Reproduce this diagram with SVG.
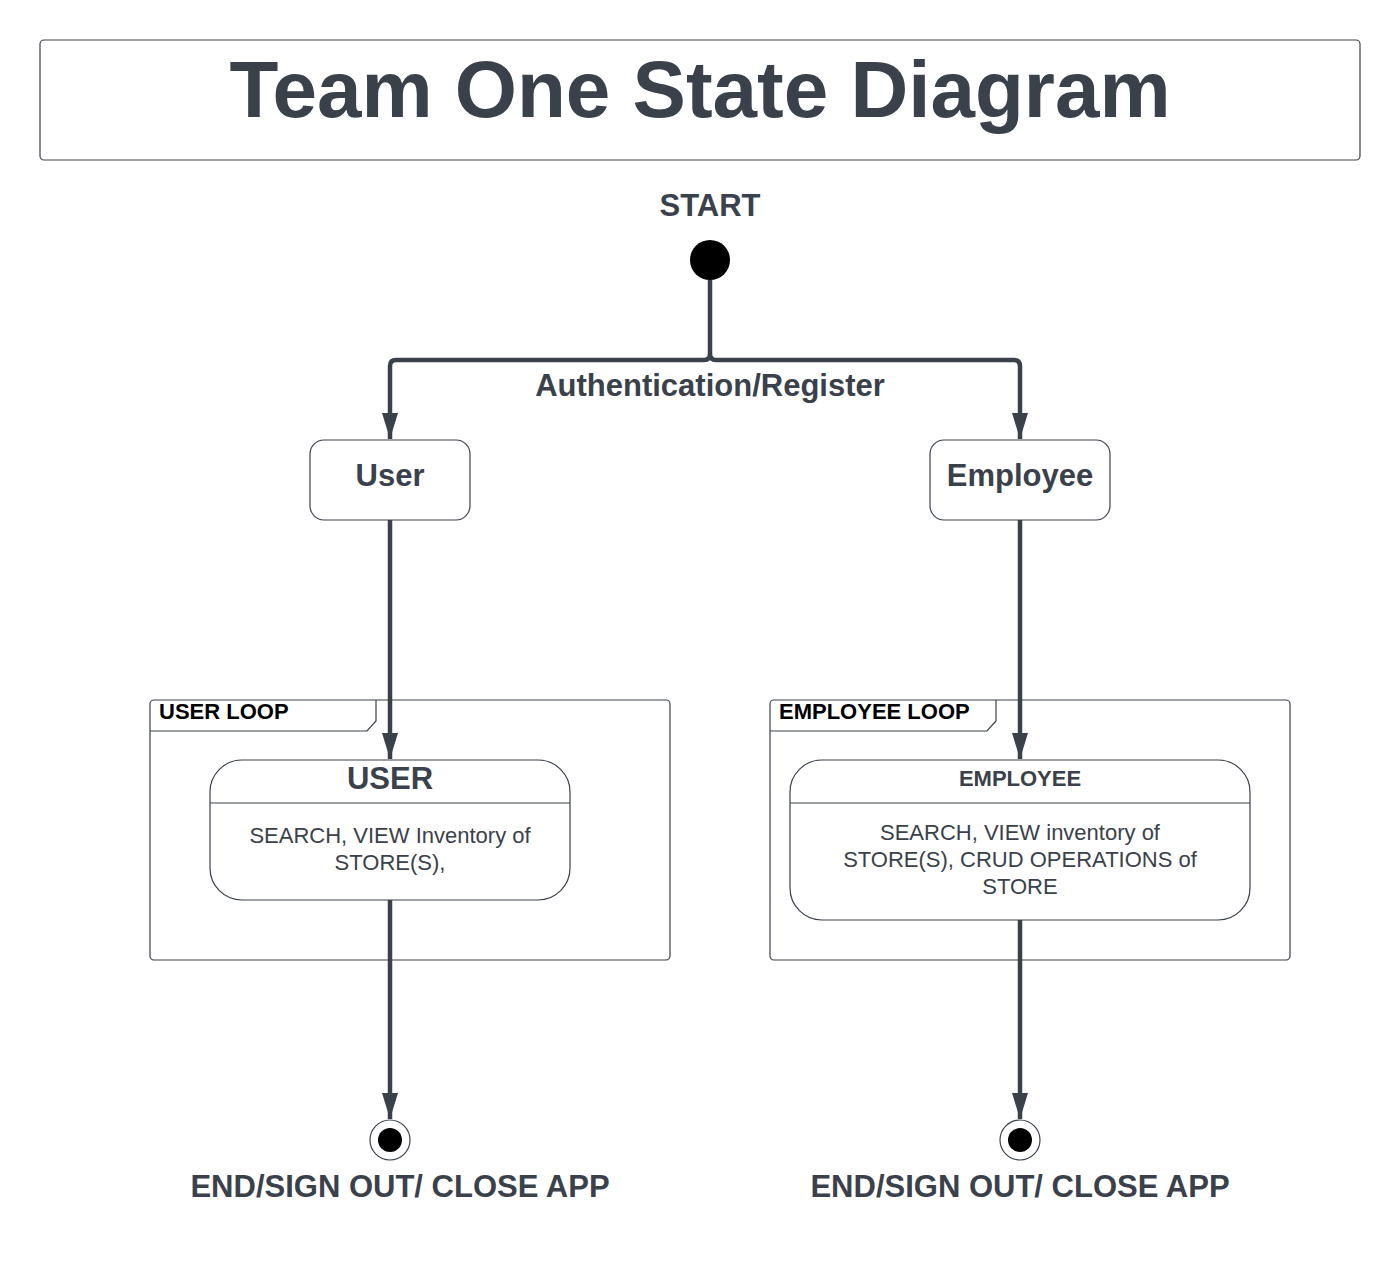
<svg xmlns="http://www.w3.org/2000/svg" width="1400" height="1274" viewBox="0 0 1400 1274">
<style>
text{font-family:"Liberation Sans",Arial,sans-serif;fill:#3a414b;text-anchor:middle}
.b{font-weight:bold}
.box{fill:#fff;stroke:#3a414b;stroke-width:1.2}
.frame{fill:none;stroke:#3a414b;stroke-width:1.2}
.conn{fill:none;stroke:#3a414b;stroke-width:4.5;stroke-linejoin:round}
</style>
<defs>
<marker id="arr" markerUnits="userSpaceOnUse" markerWidth="26" markerHeight="16" refX="26" refY="8" viewBox="0 0 26 16" orient="auto">
<path d="M0,0 L26,8 L0,16 Z" fill="#3a414b"/>
</marker>
</defs>
<rect width="1400" height="1274" fill="#fff"/>
<g id="title">
<rect x="40" y="40" width="1320" height="120" rx="4" class="box"/>
<text x="700" y="117" class="b" font-size="80">Team One State Diagram</text>
</g>
<g id="start">
<text x="710" y="216" class="b" font-size="31">START</text>
<circle cx="710" cy="260" r="20" fill="#000"/>
</g>
<g id="user">
<rect x="310" y="440" width="160" height="80" rx="14" class="box"/>
<text x="390" y="486" class="b" font-size="31">User</text>
</g>
<g id="employee">
<rect x="930" y="440" width="180" height="80" rx="14" class="box"/>
<text x="1020" y="486" class="b" font-size="31">Employee</text>
</g>
<g id="userloop">
<rect x="150" y="700" width="520" height="260" rx="4" class="frame"/>
<path d="M150,731 L367,731 L376,721 L376,700" class="frame"/>
<text x="159" y="719" class="b" font-size="22" style="text-anchor:start;fill:#000">USER LOOP</text>
</g>
<g id="employeeloop">
<rect x="770" y="700" width="520" height="260" rx="4" class="frame"/>
<path d="M770,731 L987,731 L996,721 L996,700" class="frame"/>
<text x="779" y="719" class="b" font-size="22" style="text-anchor:start;fill:#000">EMPLOYEE LOOP</text>
</g>
<g id="userstate">
<rect x="210" y="760" width="360" height="140" rx="32" class="box"/>
<line x1="210" y1="803" x2="570" y2="803" class="frame"/>
<text x="390" y="789" class="b" font-size="31">USER</text>
<text x="390" y="843" font-size="22">SEARCH, VIEW Inventory of</text>
<text x="390" y="870" font-size="22">STORE(S),</text>
</g>
<g id="employeestate">
<rect x="790" y="760" width="460" height="160" rx="32" class="box"/>
<line x1="790" y1="803" x2="1250" y2="803" class="frame"/>
<text x="1020" y="786" class="b" font-size="22">EMPLOYEE</text>
<text x="1020" y="840" font-size="22">SEARCH, VIEW inventory of</text>
<text x="1020" y="867" font-size="22">STORE(S), CRUD OPERATIONS of</text>
<text x="1020" y="894" font-size="22">STORE</text>
</g>
<g id="end-user">
<circle cx="390" cy="1140" r="20" class="box"/>
<circle cx="390" cy="1140" r="12" fill="#000"/>
<text x="400" y="1197" class="b" font-size="31">END/SIGN OUT/ CLOSE APP</text>
</g>
<g id="end-employee">
<circle cx="1020" cy="1140" r="20" class="box"/>
<circle cx="1020" cy="1140" r="12" fill="#000"/>
<text x="1020" y="1197" class="b" font-size="31">END/SIGN OUT/ CLOSE APP</text>
</g>
<g id="connectors">
<path d="M710,280 L710,354 Q710,360 704,360 L396,360 Q390,360 390,366 L390,439" class="conn" marker-end="url(#arr)"/>
<path d="M710,354 Q710,360 716,360 L1014,360 Q1020,360 1020,366 L1020,439" class="conn" marker-end="url(#arr)"/>
<text x="710" y="396" class="b" font-size="31">Authentication/Register</text>
<path d="M390,520 L390,759" class="conn" marker-end="url(#arr)"/>
<path d="M1020,520 L1020,759" class="conn" marker-end="url(#arr)"/>
<path d="M390,900 L390,1119" class="conn" marker-end="url(#arr)"/>
<path d="M1020,920 L1020,1119" class="conn" marker-end="url(#arr)"/>
</g>
</svg>
